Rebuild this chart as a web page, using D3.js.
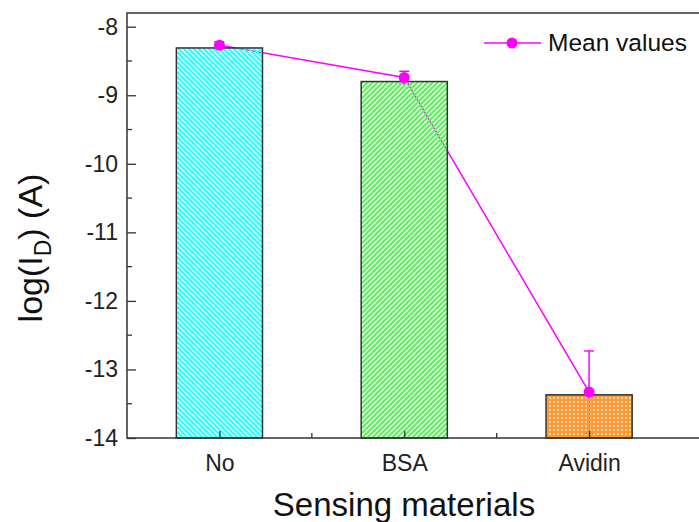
<!DOCTYPE html>
<html>
<head>
<meta charset="utf-8">
<title>Sensing materials</title>
<style>
  body { margin: 0; background: #fff; }
  svg { display: block; font-family: "Liberation Sans", Arial, sans-serif; }
</style>
</head>
<body>
<div id="chart"></div>
<script src="https://d3js.org/d3.v7.min.js"></script>
<script>
// data
var categories = ["No", "BSA", "Avidin"];
var barValues  = [-8.31, -8.80, -13.37];
var meanValues = [-8.27, -8.74, -13.33];
var errValues  = [0.05, 0.09, 0.60];
var yTicks     = [-14, -13, -12, -11, -10, -9, -8];

var width = 699, height = 522;
var plotL = 127, plotR = 700, plotT = 13, plotB = 438;

var svg = d3.select("#chart").append("svg")
    .attr("width", width)
    .attr("height", height);

var x = d3.scaleLinear().domain([0.5, 3.6]).range([plotL, plotR]);
var y = d3.scaleLinear().domain([-14, -7.8]).range([plotB, plotT]);
var barHalf = 0.233;

// patterns
var defs = svg.append("defs");
var p1 = defs.append("pattern").attr("id", "pCyan")
    .attr("patternUnits", "userSpaceOnUse").attr("width", 5).attr("height", 5);
p1.append("path").attr("d", "M0,0L5,5M-1,4L1,6M4,-1L6,1")
    .attr("stroke", "#33ffff").attr("stroke-width", 2.3);
var p2 = defs.append("pattern").attr("id", "pGreen")
    .attr("patternUnits", "userSpaceOnUse").attr("width", 5).attr("height", 5);
p2.append("path").attr("d", "M0,5L5,0M-1,1L1,-1M4,6L6,4")
    .attr("stroke", "#66f066").attr("stroke-width", 2.3);
var p3 = defs.append("pattern").attr("id", "pOrange")
    .attr("patternUnits", "userSpaceOnUse").attr("width", 4).attr("height", 4);
p3.append("path").attr("d", "M0,0h4v4h-4zM1.2,1.2h1.6v1.6h-1.6z")
    .attr("fill", "#ff9933").attr("fill-rule", "evenodd");
var fills = ["url(#pCyan)", "url(#pGreen)", "url(#pOrange)"];

// mean line and error bars go under the bars
var pts = meanValues.map(function(v, i) { return [x(i + 1), y(v)]; });
svg.append("path")
    .attr("d", d3.line()(pts))
    .attr("fill", "none")
    .attr("stroke", "#ff00ff")
    .attr("stroke-width", 1.5);

meanValues.forEach(function(v, i) {
    var cx = x(i + 1);
    var hi = y(v + errValues[i]), lo = y(v - errValues[i]);
    svg.append("line").attr("x1", cx).attr("x2", cx).attr("y1", hi).attr("y2", lo)
        .attr("stroke", "#ff00ff").attr("stroke-width", 1.5);
    [hi, lo].forEach(function(yy) {
        svg.append("line").attr("x1", cx - 5).attr("x2", cx + 5).attr("y1", yy).attr("y2", yy)
            .attr("stroke", "#ff00ff").attr("stroke-width", 1.5);
    });
});

// bars
svg.selectAll(".bar").data(barValues).enter().append("rect")
    .attr("class", "bar")
    .attr("x", function(d, i) { return x(i + 1 - barHalf); })
    .attr("width", function(d, i) { return x(i + 1 + barHalf) - x(i + 1 - barHalf); })
    .attr("y", function(d) { return y(d); })
    .attr("height", function(d) { return y(-14) - y(d); })
    .attr("fill", function(d, i) { return fills[i]; })
    .attr("stroke", "#333")
    .attr("stroke-width", 1.5);

// points on top
svg.selectAll(".pt").data(meanValues).enter().append("circle")
    .attr("cx", function(d, i) { return x(i + 1); })
    .attr("cy", function(d) { return y(d); })
    .attr("r", 5.5)
    .attr("fill", "#ff00ff");

// frame
svg.append("path")
    .attr("d", "M" + plotR + "," + plotT + "H" + plotL + "V" + plotB + "H" + plotR)
    .attr("fill", "none").attr("stroke", "#333").attr("stroke-width", 1.5);

// y axis ticks (inward)
var yAxis = d3.axisLeft(y).tickValues(yTicks).tickSize(-9).tickPadding(9)
    .tickFormat(function(d) { return String(d); });
var gy = svg.append("g").attr("transform", "translate(" + plotL + ",0)").call(yAxis);
gy.select(".domain").remove();
gy.selectAll("text").attr("font-size", 23).attr("fill", "#222")
    .attr("font-family", "Liberation Sans, Arial, sans-serif");
gy.selectAll("line").attr("stroke", "#333").attr("stroke-width", 1.3);
svg.selectAll(".ymin").data(d3.range(-13.5, -7.9, 1)).enter().append("line")
    .attr("x1", plotL).attr("x2", plotL + 5)
    .attr("y1", function(d) { return y(d); }).attr("y2", function(d) { return y(d); })
    .attr("stroke", "#333").attr("stroke-width", 1.3);

// x axis ticks (inward)
var xAxis = d3.axisBottom(x).tickValues([1, 2, 3]).tickSize(-7).tickPadding(17)
    .tickFormat(function(d) { return categories[d - 1]; });
var gx = svg.append("g").attr("transform", "translate(0," + plotB + ")").call(xAxis);
gx.select(".domain").remove();
gx.selectAll("text").attr("font-size", 23).attr("fill", "#222")
    .attr("font-family", "Liberation Sans, Arial, sans-serif");
gx.selectAll("line").attr("stroke", "#333").attr("stroke-width", 1.3);
svg.selectAll(".xmin").data([1.5, 2.5]).enter().append("line")
    .attr("x1", function(d) { return x(d); }).attr("x2", function(d) { return x(d); })
    .attr("y1", plotB).attr("y2", plotB - 5)
    .attr("stroke", "#333").attr("stroke-width", 1.3);

// axis titles
svg.append("text")
    .attr("x", 404).attr("y", 516)
    .attr("text-anchor", "middle")
    .attr("font-size", 33).attr("fill", "#111")
    .text("Sensing materials");

var yl = svg.append("text")
    .attr("transform", "translate(42,248) rotate(-90)")
    .attr("text-anchor", "middle")
    .attr("font-size", 34).attr("fill", "#111");
yl.append("tspan").text("log(I");
yl.append("tspan").attr("font-size", 23).attr("dy", 9).text("D");
yl.append("tspan").attr("dy", -9).text(") (A)");

// legend
svg.append("line").attr("x1", 484).attr("x2", 541).attr("y1", 43).attr("y2", 43)
    .attr("stroke", "#ff00ff").attr("stroke-width", 1.5);
svg.append("circle").attr("cx", 512).attr("cy", 43).attr("r", 5.5).attr("fill", "#ff00ff");
svg.append("text").attr("x", 548).attr("y", 51)
    .attr("font-size", 24.5).attr("fill", "#111").text("Mean values");
</script>
</body>
</html>
